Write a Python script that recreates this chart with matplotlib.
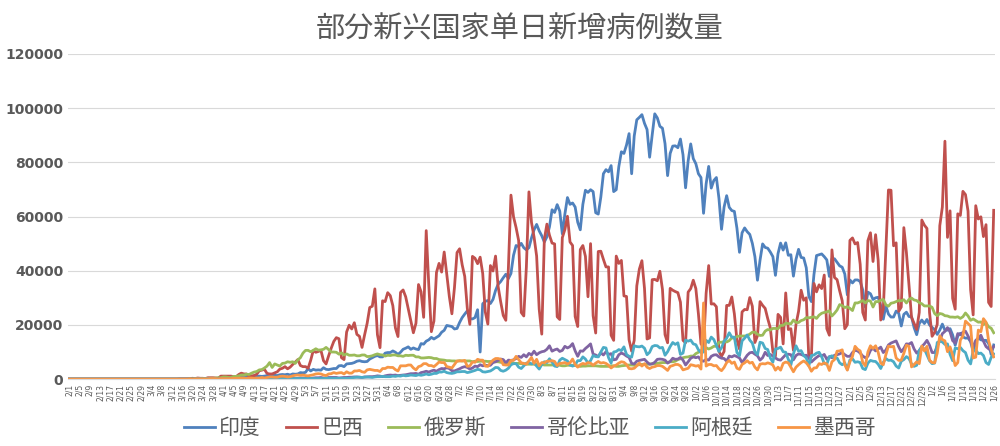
import datetime as dt
import matplotlib
matplotlib.use("Agg")
import matplotlib.pyplot as plt
from matplotlib import font_manager as fm

title = "部分新兴国家单日新增病例数量"
series_names = ["印度", "巴西", "俄罗斯", "哥伦比亚", "阿根廷", "墨西哥"]
colors = ["#4F81BD", "#C0504D", "#9BBB59", "#8064A2", "#4BACC6", "#F79646"]
y_ticks = [0, 20000, 40000, 60000, 80000, 100000, 120000]

# daily new cases in thousands, 2020-02-01 .. 2021-01-26
india_k = [0]*29 + [0]*20 + [0.1,0.1,0.1,0.1,0.1,0.1,0.1,0.2,0.2,0.2,0.2] + \
 [0.4,0.5,0.6,0.5,0.6,0.7,0.6,0.8,0.9,0.8,1.0,0.9,1.2,1.0,1.1,1.0,1.1,1.3,1.4,1.5,1.4,1.3,1.6,1.7,1.6,1.8,1.5,1.9,1.8,1.9] + \
 [2.4,2.3,2.5,3.9,3.0,3.6,3.3,3.4,3.3,4.2,3.6,3.5,3.7,3.9,3.9,4.9,5.0,4.6,5.6,5.7,5.8,6.1,6.6,6.8,6.5,6.4,6.5,7.4,7.9,8.4,8.7] + \
 [8.2,8.2,9.6,9.8,9.8,10.4,9.9,9.1,9.9,11.0,11.4,11.9,11.0,11.5,11.1,10.9,13.1,12.9,14.0,14.5,15.4,14.8,15.4,16.0,17.3,18.0,19.8,19.6,19.4,18.5] + \
 [18.7,20.9,22.7,24.0,25.2,22.3,22.2,22.7,25.6,10.0,27.8,28.7,29.0,27.9,29.4,32.7,35.0,36.0,37.4,38.7,37.1,39.0,45.7,49.3,48.9,50.1,48.5,47.7,48.5,52.1,55.1] + \
 [57.1,54.7,52.9,50.6,52.5,56.2,62.5,61.5,64.4,62.0,53.6,60.9,67.0,64.5,65.0,63.5,57.9,55.1,64.5,69.7,68.9,69.9,69.2,61.4,60.9,67.2,75.8,77.3,76.5,78.8,69.2] + \
 [69.9,78.4,83.9,83.3,86.4,90.6,75.8,89.7,95.7,96.6,97.6,94.4,92.1,81.9,90.1,97.9,96.4,93.3,92.6,86.9,75.1,83.3,86.0,86.1,85.4,88.6,82.8,70.6,80.5,86.8] + \
 [81.4,79.5,75.8,74.4,61.2,72.0,78.5,70.5,73.3,74.4,66.7,55.3,63.5,67.7,63.4,62.2,61.9,55.7,46.8,54.0,55.8,54.4,53.4,50.1,45.2,36.5,43.9,49.9,48.6,48.3,46.9] + \
 [45.2,38.3,46.3,50.2,47.6,50.3,45.7,45.9,38.0,44.2,47.9,44.9,44.7,41.1,30.5,28.6,38.6,45.6,45.9,46.2,45.2,44.0,37.9,44.4,44.4,43.1,41.8,41.3,38.8,31.1] + \
 [36.6,35.5,36.6,36.6,36.0,32.9,26.6,32.1,31.5,29.4,30.0,30.2,27.1,22.1,27.0,24.0,22.9,22.9,25.1,24.3,19.6,23.9,24.7,23.1,23.0,19.0,16.4,20.5,21.8,20.5,22.0] + \
 [20.0,19.1,18.2,16.5,18.1,20.3,18.0,18.1,18.6,16.3,12.5,15.9,16.9,15.6,15.1,15.2,13.8,10.1,13.8,15.2,14.5,14.3,14.3,13.2,9.1,12.6]

brazil_k = [0]*29 + [0]*14 + [0.1,0.1,0.1,0.1,0.2,0.3,0.2,0.4,0.3,0.3,0.2,0.5,0.5,0.5,0.4,0.3,1.1] + \
 [1.1,1.1,1.1,1.1,0.9,0.9,1.7,2.2,1.9,1.9,1.1,1.2,1.3,1.8,3.1,3.3,3.6,2.1,1.9,1.9,2.3,2.7,3.7,4.0,4.6,3.8,4.4,5.4,6.3,7.2] + \
 [5.0,4.6,4.6,4.0,6.9,10.5,9.9,10.2,10.6,6.8,5.6,8.6,11.4,13.9,15.3,14.9,7.9,7.2,17.4,19.9,18.5,20.8,16.5,15.8,11.7,16.3,20.6,26.4,26.9,33.3,16.4] + \
 [11.6,28.9,28.6,31.9,30.8,27.1,18.9,15.7,32.0,32.9,30.4,26.0,21.7,17.1,20.6,34.9,32.2,22.8,54.8,34.7,17.5,21.4,39.4,42.7,39.5,46.9,38.7,30.5,24.1,33.8] + \
 [46.7,48.1,42.2,37.9,26.1,20.2,45.3,44.6,42.6,45.0,39.0,24.8,20.3,41.9,39.9,45.4,34.2,28.5,23.5,21.7,41.0,67.9,59.9,55.9,51.1,24.6,23.3,41.3,69.1,57.8,52.4] + \
 [45.4,25.8,16.6,51.6,57.2,53.1,50.2,49.9,23.0,22.0,52.2,55.2,60.1,50.6,49.3,23.1,19.4,47.8,49.3,45.3,30.4,50.0,23.4,17.0,47.1,47.2,44.2,41.4,41.4,16.2,14.3] + \
 [45.4,42.7,43.8,30.7,30.5,14.5,10.3,14.3,34.4,40.6,43.7,33.5,14.8,15.2,36.7,36.8,36.3,39.8,33.1,16.4,13.4,33.5,32.8,32.3,31.9,28.4,14.3,13.4,32.1,33.4] + \
 [36.5,33.4,24.1,13.0,11.9,31.6,41.9,27.7,27.8,26.7,10.2,8.4,10.2,27.2,27.2,30.3,24.1,14.5,11.1,24.8,25.7,25.6,30.1,26.9,13.5,16.0,28.6,27.2,26.1,22.3,18.9] + \
 [10.1,8.5,23.9,22.8,13.0,31.8,18.3,18.6,10.6,20.2,25.0,32.8,29.1,30.0,7.7,8.2,35.3,32.2,34.8,33.4,38.4,18.6,16.2,47.7,37.5,36.7,32.6,28.9,18.6,20.1] + \
 [51.2,52.1,49.9,50.4,42.4,24.6,21.8,51.1,54.0,43.4,53.3,43.9,21.8,25.9,48.1,69.8,69.7,49.2,50.3,25.0,26.6,55.9,46.7,35.0,22.8,20.5,18.3,24.6,58.7,56.8,55.6] + \
 [24.6,15.8,17.3,20.2,56.6,63.5,87.8,52.3,62.1,29.8,25.8,61.0,60.4,69.3,68.1,62.0,33.0,23.7,64.0,59.1,59.9,52.6,57.0,28.3,26.8,62.3]

russia_k = [0]*29 + [0]*18 + [0.1,0.1,0.1,0.1,0.1,0.2,0.2,0.3,0.3,0.3,0.4,0.5,0.5] + \
 [0.8,0.8,0.6,0.6,1.0,1.0,1.2,1.5,1.5,1.8,1.7,2.2,2.6,2.8,3.4,3.5,4.1,4.8,6.1,4.3,5.6,5.2,4.8,5.8,5.9,6.4,6.2,6.4,5.8,7.1] + \
 [7.9,9.6,10.6,10.6,10.1,10.6,11.2,10.7,10.8,11.0,11.7,10.9,10.0,10.0,9.9,9.2,9.7,8.9,9.3,8.8,8.8,8.9,8.6,8.6,8.9,8.9,8.3,8.4,8.6,9.0,9.3] + \
 [9.0,8.9,8.5,8.8,8.7,8.9,8.9,8.6,8.6,8.4,8.8,8.7,8.8,8.8,8.2,8.2,7.8,7.8,7.9,8.0,7.9,7.6,7.6,7.2,7.1,7.0,6.8,6.8,6.7,6.7] + \
 [6.6,6.8,6.7,6.7,6.7,6.7,6.4,6.6,6.5,6.6,6.6,6.6,6.5,6.5,6.4,6.4,6.4,6.2,6.1,6.1,5.9,5.8,5.8,5.8,5.8,5.7,5.6,5.5,5.5,5.5,5.5] + \
 [5.5,5.4,5.4,5.2,5.2,5.2,5.2,5.2,5.2,5.1,4.9,4.9,5.1,5.1,5.1,5.0,4.9,4.7,4.8,4.8,4.9,4.9,4.9,4.9,4.8,4.7,4.7,4.7,4.7,4.9,4.9] + \
 [4.7,4.7,4.9,5.0,5.1,5.2,5.2,5.1,5.2,5.3,5.4,5.4,5.5,5.5,5.7,5.7,5.8,6.0,6.1,6.1,6.2,6.4,6.4,6.6,7.2,7.5,7.9,8.1,8.2,8.5] + \
 [8.5,9.4,9.9,10.5,10.9,11.6,11.1,11.5,12.1,12.1,13.6,13.6,13.9,13.7,14.2,15.2,15.1,15.7,15.9,15.9,15.9,16.0,16.6,17.3,17.3,16.6,16.1,16.2,17.7,18.3,18.1] + \
 [18.7,18.7,18.6,19.8,19.8,20.6,20.5,20.4,21.8,20.9,20.9,21.6,21.9,22.7,22.6,22.8,23.0,22.4,23.6,24.3,24.6,24.8,25.2,23.3,24.3,25.5,27.5,27.1,26.4,26.7] + \
 [26.1,25.3,28.1,28.1,28.5,29.0,28.1,29.0,28.8,26.6,28.6,28.6,29.1,29.4,27.4,26.9,28.0,28.2,28.6,29.0,28.9,29.3,28.1,29.4,29.9,29.2,29.0,28.2,27.8,27.0,27.0] + \
 [27.0,26.5,24.2,23.4,24.2,24.0,23.4,23.3,22.9,22.9,22.8,23.0,22.4,23.0,24.4,23.3,21.7,22.2,21.6,21.0,21.1,20.1,20.8,19.3,18.8,17.1]

colombia_k = [0]*29 + [0]*25 + [0.1]*6 + \
 [0.1,0.1,0.1,0.1,0.1,0.1,0.1,0.2,0.2,0.2,0.2,0.1,0.1,0.1,0.1,0.2,0.2,0.2,0.2,0.2,0.2,0.2,0.3,0.3,0.3,0.3,0.3,0.3,0.2,0.3] + \
 [0.4,0.4,0.3,0.3,0.3,0.4,0.5,0.5,0.6,0.4,0.4,0.6,0.6,0.6,0.6,0.4,0.5,0.6,0.6,0.7,0.7,0.8,0.8,0.7,0.6,0.8,0.8,0.9,0.9,1.0,1.2] + \
 [1.1,0.9,1.2,1.4,1.5,1.4,1.5,1.3,1.4,1.5,1.6,1.8,2.0,2.0,2.1,1.8,2.4,2.6,2.9,2.6,3.0,3.3,2.9,3.5,3.9,3.8,4.2,3.9,3.1,3.0] + \
 [3.4,3.8,4.3,4.6,4.3,3.7,4.1,4.8,4.6,5.3,4.9,5.1,5.0,5.1,6.1,6.4,6.9,7.4,7.2,6.0,7.0,6.9,7.1,7.6,8.4,8.0,9.0,8.2,9.5,8.9,10.3] + \
 [9.0,9.7,10.1,10.3,11.0,12.3,10.3,10.8,11.1,10.2,10.6,12.1,11.5,12.0,13.1,10.4,8.4,10.4,10.3,11.3,12.1,13.0,9.2,8.9,8.3,9.7,8.9,10.1,9.1,9.4,7.1] + \
 [7.3,9.0,9.6,9.2,8.5,8.0,5.8,5.6,6.6,6.9,7.1,7.3,6.3,5.5,5.6,6.2,7.3,7.4,7.3,7.0,5.9,6.5,7.7,7.3,7.4,8.0,7.0,5.2,6.4,7.7] + \
 [8.2,7.9,8.2,6.9,6.6,7.3,7.0,8.4,8.9,9.0,8.2,7.7,7.6,6.6,8.5,8.2,8.7,8.3,7.8,6.1,7.4,8.8,9.7,9.9,9.2,8.6,7.0,7.9,9.9,8.7,9.1] + \
 [8.5,7.8,7.2,7.0,8.0,9.0,9.2,9.0,7.1,8.7,9.3,9.1,8.7,8.8,7.9,6.3,7.2,8.0,8.7,8.5,9.1,7.3,8.3,7.9,8.8,9.0,9.3,9.8,9.0,8.4] + \
 [8.4,9.8,10.6,10.4,9.6,8.5,7.9,8.4,10.6,11.4,10.4,11.1,11.8,9.8,10.7,12.6,13.3,13.7,14.1,11.9,10.1,11.3,13.0,12.9,13.5,11.1,9.6,10.5,12.0,13.0,14.3] + \
 [12.5,9.8,9.8,12.3,14.1,16.8,17.6,19.0,17.4,14.2,13.3,16.8,16.4,17.3,17.7,15.9,14.0,12.0,14.3,15.1,16.2,14.0,12.0,11.2,10.6,12.0]

argentina_k = [0]*29 + [0]*20 + [0.1]*11 + [0.1]*15 + [0.2]*15 + \
 [0.2]*10 + [0.3]*10 + [0.5,0.6,0.7,0.7,0.6,0.7,0.8,0.7,0.6,0.8,0.9] + \
 [0.9,1.0,0.9,0.9,0.9,1.1,1.0,1.2,1.1,1.4,1.2,1.3,1.5,1.4,1.3,1.6,1.4,1.6,1.9,1.6,1.8,2.1,2.1,2.6,2.6,2.9,2.4,2.2,2.1,2.3] + \
 [2.7,2.7,2.8,2.8,2.4,2.6,2.9,3.2,3.6,3.4,2.7,2.6,2.8,3.0,3.6,4.3,4.2,3.2,2.9,3.3,4.0,5.3,5.7,5.7,4.4,3.9,4.9,5.9,6.1,5.6,5.9] + \
 [4.8,3.7,5.4,6.4,6.1,7.5,6.3,4.8,4.6,7.0,7.7,7.2,6.7,5.2,4.8,5.3,6.8,6.8,8.2,7.4,5.9,6.8,8.7,8.3,8.2,10.0,11.7,11.5,7.9,5.9,10.0] + \
 [10.2,10.9,10.5,11.9,9.1,8.4,8.1,12.3,12.0,11.9,12.2,11.4,9.0,9.9,12.0,12.4,12.3,11.5,11.7,8.8,10.1,12.0,13.5,12.8,13.4,9.1,9.6,14.4,14.0,14.4] + \
 [13.0,12.7,10.8,9.8,10.0,14.3,13.5,15.5,14.6,12.4,10.2,11.6,13.9,15.1,17.1,15.5,15.5,9.8,8.6,14.1,15.1,16.3,14.4,13.3,10.1,9.0,13.6,13.3,11.3,10.9,7.8] + \
 [6.2,11.1,11.3,11.8,10.1,9.9,7.3,5.2,9.3,12.3,10.3,10.5,8.7,7.8,4.9,8.7,8.9,9.6,9.9,8.3,5.7,5.5,8.2,8.6,7.8,7.8,6.0,5.3,6.0,3.6] + \
 [7.1,7.5,6.2,6.4,6.1,3.9,3.5,5.9,6.9,6.6,6.5,5.5,3.9,6.2,7.6,6.9,7.0,6.4,4.8,4.1,6.6,7.2,8.3,7.6,5.6,4.7,5.1,10.6,11.8,11.1,8.9] + \
 [6.8,5.7,5.9,13.5,14.0,13.7,12.8,13.0,9.1,6.8,11.5,11.2,11.7,10.5,9.8,7.0,5.6,10.6,10.8,9.4,9.6,8.7,6.1,5.4,8.0,9.3]

mexico_k = [0]*29 + [0]*18 + [0.1,0,0.1,0.1,0.1,0.1,0.1,0.1,0.2,0.2,0.2,0.1,0.2] + \
 [0.2,0.2,0.2,0.2,0.3,0.3,0.3,0.4,0.4,0.3,0.4,0.4,0.3,0.4,0.4,0.6,0.4,0.6,0.8,0.8,0.7,0.7,1.0,1.1,1.0,0.8,0.9,1.2,1.4,1.5] + \
 [1.4,1.5,1.3,1.2,1.4,1.6,1.9,2.0,1.9,1.5,1.3,1.9,2.0,2.4,2.1,2.3,2.4,1.9,2.7,2.2,2.2,3.0,3.0,3.2,2.7,2.5,3.4,3.6,3.4,3.2,3.2] + \
 [2.8,3.9,3.9,4.4,4.3,4.3,3.5,3.0,4.9,4.9,4.9,5.2,5.2,4.1,3.4,4.6,4.9,5.7,5.7,5.0,5.0,4.6,5.4,6.3,6.1,6.1,4.6,4.4,4.1,5.4] + \
 [6.7,6.7,6.7,6.9,4.7,4.9,6.3,6.2,7.3,7.0,7.0,4.8,4.7,6.0,7.0,7.6,7.6,7.3,5.3,5.2,5.2,6.9,6.9,8.4,7.2,6.0,5.8,5.5,6.7,8.0,5.8] + \
 [7.3,4.9,6.1,6.0,6.6,6.6,6.8,6.5,5.0,5.8,5.9,6.1,5.6,6.0,7.4,5.4,4.4,5.3,5.8,5.5,6.1,5.9,5.1,5.9,6.5,5.9,6.1,5.8,5.1,4.1,4.8] + \
 [5.2,5.9,6.4,6.2,5.4,3.9,3.8,4.0,4.9,5.9,4.8,5.7,4.4,3.9,4.4,4.6,5.0,5.0,4.7,4.0,3.2,4.7,5.0,5.4,5.4,4.9,3.4,3.7,4.0,5.3] + \
 [5.1,4.8,5.0,3.7,28.1,4.8,5.4,5.4,4.9,5.0,3.8,3.1,4.3,6.1,6.9,5.8,6.3,4.0,3.6,5.4,6.0,6.8,5.9,6.2,4.4,3.4,5.5,5.7,5.6,6.0,5.7] + \
 [5.2,3.3,4.4,3.3,5.8,6.3,6.0,4.4,2.7,4.4,5.3,6.1,6.7,6.0,4.8,2.9,4.1,4.2,5.7,5.4,6.0,5.6,3.2,6.4,7.2,10.3,10.4,10.8,5.3,3.3] + \
 [6.4,8.4,12.1,11.0,10.4,6.1,4.9,10.0,12.3,11.3,12.3,9.9,5.9,5.3,9.0,12.2,11.9,12.1,7.8,6.9,7.0,9.5,12.5,12.1,4.5,5.4,6.4,5.7,12.2,10.4,12.1] + \
 [7.0,6.1,6.0,9.6,16.0,14.6,14.1,10.1,11.9,8.9,5.0,6.1,14.4,15.9,21.4,20.5,19.6,7.8,8.1,18.1,17.5,22.3,21.0,14.2,10.9,8.2]

series_k = [india_k, brazil_k, russia_k, colombia_k, argentina_k, mexico_k]

start = dt.date(2020, 2, 1)
n_days = 361
dates = [start + dt.timedelta(days=i) for i in range(n_days)]
date_labels = [f"{d.month}/{d.day}" for d in dates]

# locate a CJK font file
cjk_path = None
for f in fm.fontManager.ttflist:
    if "CJK" in f.name and ("SC" in f.name or cjk_path is None):
        cjk_path = f.fname
if cjk_path is None:
    import glob
    cands = glob.glob("/usr/share/fonts/**/*CJK*", recursive=True)
    cjk_path = cands[0] if cands else None

def cjk(size):
    if cjk_path:
        return fm.FontProperties(fname=cjk_path, size=size)
    return fm.FontProperties(family="Noto Sans CJK SC", size=size)

fig = plt.figure(figsize=(10, 4.46), dpi=100)
ax = fig.add_axes([0.068, 0.150, 0.927, 0.729])

for name, vals, c in zip(series_names, series_k, colors):
    m = min(len(vals), n_days)
    ax.plot(range(m), [v * 1000 for v in vals[:m]], color=c, lw=2.0, label=name)

ax.set_xlim(-0.5, n_days - 0.5)
ax.set_ylim(0, 120000)
ax.set_yticks(y_ticks)
ax.set_yticklabels([str(v) for v in y_ticks], fontsize=10, fontweight="bold", color="#595959")
ax.set_xticks(range(0, n_days, 4))
ax.set_xticklabels(date_labels[::4], rotation=90, fontsize=5.5, color="#595959")
ax.tick_params(axis="both", length=0)
ax.grid(axis="y", color="#D9D9D9", lw=0.8)
ax.set_axisbelow(True)
for s in ["top", "right", "left"]:
    ax.spines[s].set_visible(False)
ax.spines["bottom"].set_color("#D9D9D9")

fig.text(0.52, 0.935, title, ha="center", va="center", fontproperties=cjk(21), color="#595959")
fig.legend(loc="center", bbox_to_anchor=(0.53, 0.04), ncol=6, frameon=False, prop=cjk(15),
           handlelength=1.5, handletextpad=0.2, columnspacing=1.2, labelcolor="#595959")

fig.savefig("out.png", dpi=100)
